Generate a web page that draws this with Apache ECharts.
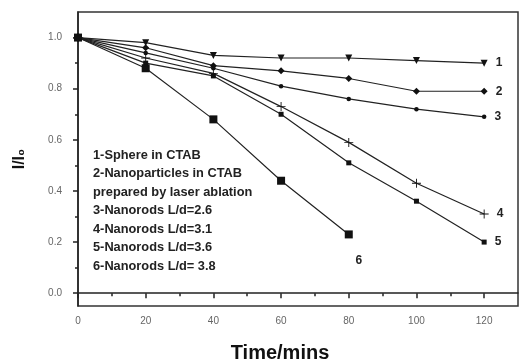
<!DOCTYPE html>
<html>
<head>
<meta charset="utf-8">
<script src="https://cdn.jsdelivr.net/npm/echarts@6/dist/echarts.min.js"></script>
<style>
html,body{margin:0;padding:0;background:#fff;}
#c{width:520px;height:362px;}
</style>
</head>
<body>
<div id="c"></div>
<script>
var times = [0, 20, 40, 60, 80, 100, 120];
var s1 = [1.0, 0.98, 0.93, 0.92, 0.92, 0.91, 0.90];
var s2 = [1.0, 0.96, 0.89, 0.87, 0.84, 0.79, 0.79];
var s3 = [1.0, 0.94, 0.88, 0.81, 0.76, 0.72, 0.69];
var s4 = [1.0, 0.92, 0.86, 0.73, 0.59, 0.43, 0.31];
var s5 = [1.0, 0.90, 0.85, 0.70, 0.51, 0.36, 0.20];
var s6 = [1.0, 0.88, 0.68, 0.44, 0.23];
var seriesLabels = ['1', '2', '3', '4', '5', '6'];
var xTicks = [0, 20, 40, 60, 80, 100, 120];
var xMinor = [10, 30, 50, 70, 90, 110];
var yTicks = [0, 0.2, 0.4, 0.6, 0.8, 1.0];
var yMinor = [0.1, 0.3, 0.5, 0.7, 0.9];
var legendLines = [
  '1-Sphere in CTAB',
  '2-Nanoparticles in CTAB',
  'prepared by laser ablation',
  '3-Nanorods L/d=2.6',
  '4-Nanorods L/d=3.1',
  '5-Nanorods L/d=3.6',
  '6-Nanorods L/d= 3.8'
];

var FONT = '"Liberation Sans", Arial, sans-serif';
var plusPath = 'path://M4.5,0h1v4.5h4.5v1h-4.5v4.5h-1v-4.5h-4.5v-1h4.5z';

function mkData(vals, lbl, off) {
  return vals.map(function (v, i) {
    var item = { value: [times[i], v] };
    if (i === vals.length - 1) {
      item.label = {
        show: true, formatter: lbl, position: off ? 'inside' : 'right',
        offset: off || [0, 0], distance: 8,
        fontFamily: FONT, fontWeight: 'bold', fontSize: 12, color: '#222'
      };
    }
    return item;
  });
}

var symbols = [
  { symbol: 'triangle', size: 7, rotate: 180 },
  { symbol: 'diamond', size: 7, rotate: 0 },
  { symbol: 'circle', size: 4.5, rotate: 0 },
  { symbol: plusPath, size: 9, rotate: 0 },
  { symbol: 'rect', size: 5, rotate: 0 },
  { symbol: 'rect', size: 8, rotate: 0 }
];
var all = [s1, s2, s3, s4, s5, s6];

var series = all.map(function (vals, k) {
  return {
    type: 'line',
    data: mkData(vals, seriesLabels[k], k === 5 ? [10, 26] : null),
    symbol: symbols[k].symbol,
    symbolSize: symbols[k].size,
    symbolRotate: symbols[k].rotate,
    showAllSymbol: true,
    animation: false,
    lineStyle: { color: '#222', width: 1.2 },
    itemStyle: { color: '#111', borderWidth: 0 },
    emphasis: { disabled: true },
    z: 3
  };
});

var chart = echarts.init(document.getElementById('c'), null, { renderer: 'canvas' });
chart.setOption({
  backgroundColor: '#fff',
  animation: false,
  grid: {
    left: 78, right: 2, top: 12, bottom: 56,
    outerBoundsMode: 'none', containLabel: false,
    show: true, borderColor: '#333', borderWidth: 1.5, backgroundColor: 'transparent'
  },
  xAxis: [{
    type: 'value', min: 0, max: 130,
    name: 'Time/mins', nameLocation: 'middle', nameGap: 37,
    nameTextStyle: { fontFamily: FONT, fontWeight: 'bold', fontSize: 20, color: '#111', padding: [0, 36, 0, 0] },
    axisLine: { show: true, lineStyle: { color: '#222', width: 1.5 } },
    axisTick: { show: true, length: 5, customValues: xTicks, lineStyle: { color: '#222', width: 1.5 } },
    axisLabel: { customValues: xTicks, fontFamily: FONT, fontSize: 10, color: '#666', margin: 10 },
    splitLine: { show: false }
  }, {
    type: 'value', min: 0, max: 130, position: 'bottom',
    axisLine: { show: false },
    axisTick: { show: true, length: 3, customValues: xMinor, lineStyle: { color: '#222', width: 1.5 } },
    axisLabel: { show: false },
    splitLine: { show: false }
  }],
  yAxis: [{
    type: 'value', min: -0.05, max: 1.1,
    name: 'I/I\u2080', nameLocation: 'middle', nameGap: 50,
    nameTextStyle: { fontFamily: FONT, fontWeight: 'bold', fontSize: 16, color: '#111' },
    axisLine: { show: true, lineStyle: { color: '#222', width: 1.5 } },
    axisTick: { show: true, length: 5, customValues: yTicks, lineStyle: { color: '#222', width: 1.5 } },
    axisLabel: { customValues: yTicks, fontFamily: FONT, fontSize: 10, color: '#666', margin: 16,
      formatter: function (v) { return v.toFixed(1); } },
    splitLine: { show: false }
  }, {
    type: 'value', min: -0.05, max: 1.1, position: 'left',
    axisLine: { show: false },
    axisTick: { show: true, length: 3, customValues: yMinor, lineStyle: { color: '#222', width: 1.5 } },
    axisLabel: { show: false },
    splitLine: { show: false }
  }],
  graphic: [{
    type: 'text', left: 93, top: 146, silent: true,
    style: {
      text: legendLines.join('\n'),
      font: 'bold 12.8px ' + FONT,
      fill: '#222', lineHeight: 18.5
    }
  }],
  series: series
});
</script>
</body>
</html>
